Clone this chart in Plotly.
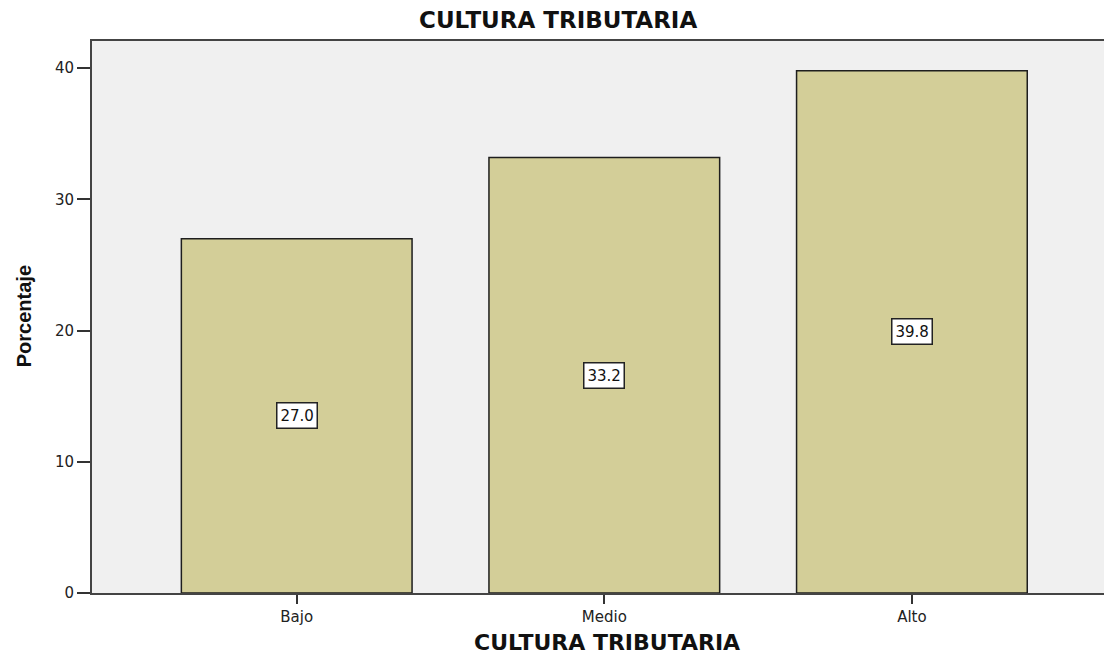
import plotly.graph_objects as go

categories = ["Bajo", "Medio", "Alto"]
percentages = [27.0, 33.2, 39.8]
label_texts = ["27.0", "33.2", "39.8"]
y_ticks = [0, 10, 20, 30, 40]

W, H = 1104, 654
fig = go.Figure()
fig.add_trace(go.Bar(
    x=categories, y=percentages, width=0.75,
    marker=dict(color="#d3ce98", line=dict(color="#1e1e1e", width=1.5)),
    hoverinfo="skip", showlegend=False,
))

for c, v, t in zip(categories, percentages, label_texts):
    fig.add_annotation(x=c, y=v / 2, text=t, showarrow=False,
                       font=dict(family="DejaVu Sans", size=15, color="#111"),
                       bgcolor="white", bordercolor="#222", borderwidth=1.5, borderpad=3)

fig.add_annotation(xref="paper", yref="paper", x=(557.5 - 92) / (W - 92), y=1 + (41 - 20) / (593.5 - 41),
                   text="<b>CULTURA TRIBUTARIA</b>", showarrow=False, yanchor="middle", xanchor="center",
                   font=dict(family="DejaVu Sans", size=23, color="#111"))
fig.add_annotation(xref="paper", yref="paper", x=(606.5 - 92) / (W - 92), y=-(643 - 593.5) / (593.5 - 41),
                   text="<b>CULTURA TRIBUTARIA</b>", showarrow=False, yanchor="middle", xanchor="center",
                   font=dict(family="DejaVu Sans", size=22, color="#111"))
fig.add_annotation(xref="paper", yref="paper", x=-(92 - 24) / (W - 92), y=(593.5 - 316.5) / (593.5 - 41),
                   text="<b>Porcentaje</b>", showarrow=False, textangle=-90, yanchor="middle", xanchor="center",
                   font=dict(family="Liberation Sans", size=20, color="#111"))

fig.update_layout(
    width=W, height=H,
    margin=dict(l=92, r=0, t=41, b=654 - 593.5),
    paper_bgcolor="white", plot_bgcolor="#f0f0f0",
    bargap=0.25,
)
fig.update_xaxes(type="category", range=[-0.6655, 2.6245], showgrid=False, zeroline=False,
                 showline=True, linecolor="#444", linewidth=2, mirror=True,
                 ticks="outside", ticklen=9, tickwidth=1.5, tickcolor="#333",
                 tickfont=dict(family="DejaVu Sans", size=15, color="#222"))
fig.update_yaxes(range=[0, 42.07], tickvals=y_ticks, showgrid=False, zeroline=False,
                 showline=True, linecolor="#444", linewidth=2,
                 ticks="outside", ticklen=13, tickwidth=1.5, tickcolor="#333",
                 tickfont=dict(family="DejaVu Sans", size=15, color="#222"))

fig.write_html("out.html",
               config={"displayModeBar": False},
               post_script="document.body.style.margin='0px';document.body.style.overflow='hidden';"
                           "Plotly.relayout('{plot_id}', {width: 1104, height: 654});")
